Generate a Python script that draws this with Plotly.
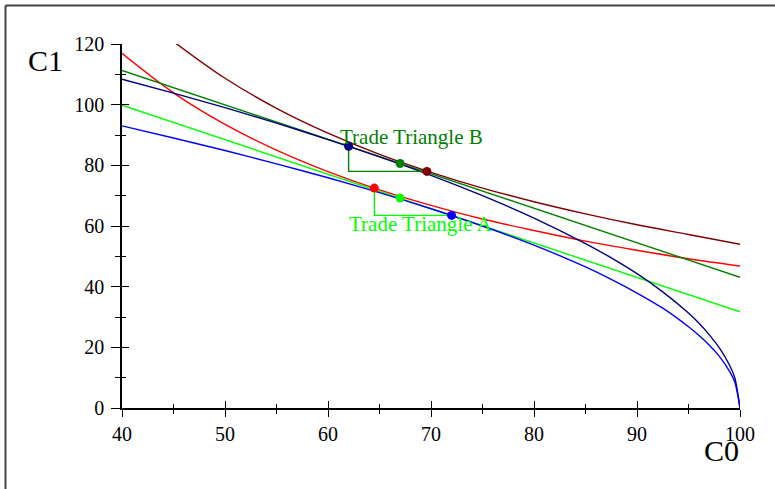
import plotly.graph_objects as go

# ---- data ----
ppf_x = [40, 45, 50, 55, 60, 65, 70, 75, 80, 85, 87.5, 90, 92.5, 95, 96, 97, 98, 99, 99.5, 100]
ppf_blue_y = [93.0, 89.0, 84.9, 80.5, 75.9, 71.0, 65.7, 60.0, 53.7, 46.5, 42.4, 37.9, 32.9, 26.8, 24.0, 20.8, 17.0, 12.0, 8.5, 0]
ppf_navy_y = [108.4, 103.8, 99.0, 93.9, 88.5, 82.8, 76.7, 70.0, 62.6, 54.2, 49.5, 44.3, 38.3, 31.3, 28.0, 24.2, 19.8, 14.0, 9.9, 0]

ic_red_x = [40, 45, 50, 55, 60, 65, 70, 75, 80, 85, 90, 95, 100]
ic_red_y = [116.9, 103.9, 93.5, 85.0, 77.9, 71.9, 66.8, 62.3, 58.5, 55.0, 52.0, 49.2, 46.8]
ic_dred_x = [45, 50, 55, 60, 65, 70, 75, 80, 85, 90, 95, 100]
ic_dred_y = [120.8, 108.7, 98.8, 90.6, 83.6, 77.7, 72.5, 68.0, 64.0, 60.4, 57.2, 54.0]

line_x = [40, 100]
budget_green_y = [111.3, 43.1]
budget_lgreen_y = [99.8, 31.7]

triA_x = [64.5, 64.5, 72.0]
triA_y = [72.5, 63.5, 63.5]
triB_x = [62.0, 62.0, 69.6]
triB_y = [86.3, 78.0, 78.0]

dots_x = [64.5, 67.0, 72.0, 62.0, 67.0, 69.6]
dots_y = [72.5, 69.2, 63.5, 86.3, 80.6, 78.0]
dots_c = ["#ff0000", "#00ff00", "#0000ff", "#000080", "#008000", "#800000"]

FONT = "Liberation Serif"
LW = 1.4

fig = go.Figure()
fig.add_trace(go.Scatter(x=ic_dred_x, y=ic_dred_y, mode="lines", line=dict(color="#800000", width=LW, shape="spline")))
fig.add_trace(go.Scatter(x=ic_red_x, y=ic_red_y, mode="lines", line=dict(color="#ff0000", width=LW, shape="spline")))
fig.add_trace(go.Scatter(x=line_x, y=budget_green_y, mode="lines", line=dict(color="#008000", width=LW)))
fig.add_trace(go.Scatter(x=line_x, y=budget_lgreen_y, mode="lines", line=dict(color="#00ff00", width=LW)))
fig.add_trace(go.Scatter(x=ppf_x, y=ppf_navy_y, mode="lines", line=dict(color="#000080", width=LW, shape="spline", smoothing=0.8)))
fig.add_trace(go.Scatter(x=ppf_x, y=ppf_blue_y, mode="lines", line=dict(color="#0000ff", width=LW, shape="spline", smoothing=0.8)))
fig.add_trace(go.Scatter(x=triA_x, y=triA_y, mode="lines", line=dict(color="#00ff00", width=LW)))
fig.add_trace(go.Scatter(x=triB_x, y=triB_y, mode="lines", line=dict(color="#008000", width=LW)))
fig.add_trace(go.Scatter(x=dots_x, y=dots_y, mode="markers", marker=dict(color=dots_c, size=9, line=dict(width=0))))
# dummy trace for overlay axes (inside ticks)
fig.add_trace(go.Scatter(x=[None], y=[None], xaxis="x2", yaxis="y2", hoverinfo="skip"))

fig.add_annotation(x=61.0, y=89.3, xref="x", yref="y", text="Trade Triangle B", showarrow=False,
                   xanchor="left", yanchor="middle", font=dict(family=FONT, size=21, color="#008000"))
fig.add_annotation(x=61.8, y=60.5, xref="x", yref="y", text="Trade Triangle A", showarrow=False,
                   xanchor="left", yanchor="middle", font=dict(family=FONT, size=21, color="#00ff00"))
fig.add_annotation(x=-0.123, y=1.0, xref="paper", yref="paper", text="C1", showarrow=False,
                   xanchor="center", yanchor="middle", yshift=-16, font=dict(family=FONT, size=30, color="black"))
fig.add_annotation(x=0.97, y=0, xref="paper", yref="paper", text="C0", showarrow=False,
                   xanchor="center", yanchor="middle", yshift=-42, font=dict(family=FONT, size=30, color="black"))

# frame lines (top and left)
fig.add_shape(type="line", xref="paper", yref="paper", x0=-0.1885, x1=1.06, y0=1.1058, y1=1.1058,
              line=dict(color="#444444", width=2))
fig.add_shape(type="line", xref="paper", yref="paper", x0=-0.1885, x1=-0.1885, y0=1.1058, y1=-0.23,
              line=dict(color="#444444", width=2))

tickfont = dict(family=FONT, size=20, color="black")
fig.update_layout(
    width=775, height=489,
    margin=dict(l=122, r=35, t=44, b=81),
    paper_bgcolor="white", plot_bgcolor="white",
    showlegend=False,
    xaxis=dict(range=[40, 100], tick0=40, dtick=10, ticks="outside", ticklen=7, tickwidth=1.3, tickcolor="black",
               showline=True, linecolor="black", linewidth=1.5, showgrid=False, zeroline=False,
               tickfont=tickfont, ticklabelstandoff=0,
               minor=dict(dtick=5, ticks="outside", ticklen=4, tickwidth=1.3, tickcolor="black", showgrid=False)),
    yaxis=dict(range=[0, 120], tick0=0, dtick=20, ticks="outside", ticklen=9, tickwidth=1.3, tickcolor="black",
               showline=True, linecolor="black", linewidth=1.5, showgrid=False, zeroline=False,
               tickfont=tickfont, ticklabelstandoff=3,
               minor=dict(dtick=10, ticks="outside", ticklen=5, tickwidth=1.3, tickcolor="black", showgrid=False)),
    xaxis2=dict(range=[40, 100], overlaying="x", anchor="y", side="bottom", tick0=40, dtick=10, ticks="inside",
                ticklen=7, tickwidth=1.3, tickcolor="black", showticklabels=False, showline=False,
                showgrid=False, zeroline=False,
                minor=dict(dtick=5, ticks="inside", ticklen=4, tickwidth=1.3, tickcolor="black", showgrid=False)),
    yaxis2=dict(range=[0, 120], overlaying="y", anchor="x", side="left", tick0=0, dtick=20, ticks="inside",
                ticklen=7, tickwidth=1.3, tickcolor="black", showticklabels=False, showline=False,
                showgrid=False, zeroline=False,
                minor=dict(dtick=10, ticks="inside", ticklen=4, tickwidth=1.3, tickcolor="black", showgrid=False)),
)

fig.write_html("out.html")
